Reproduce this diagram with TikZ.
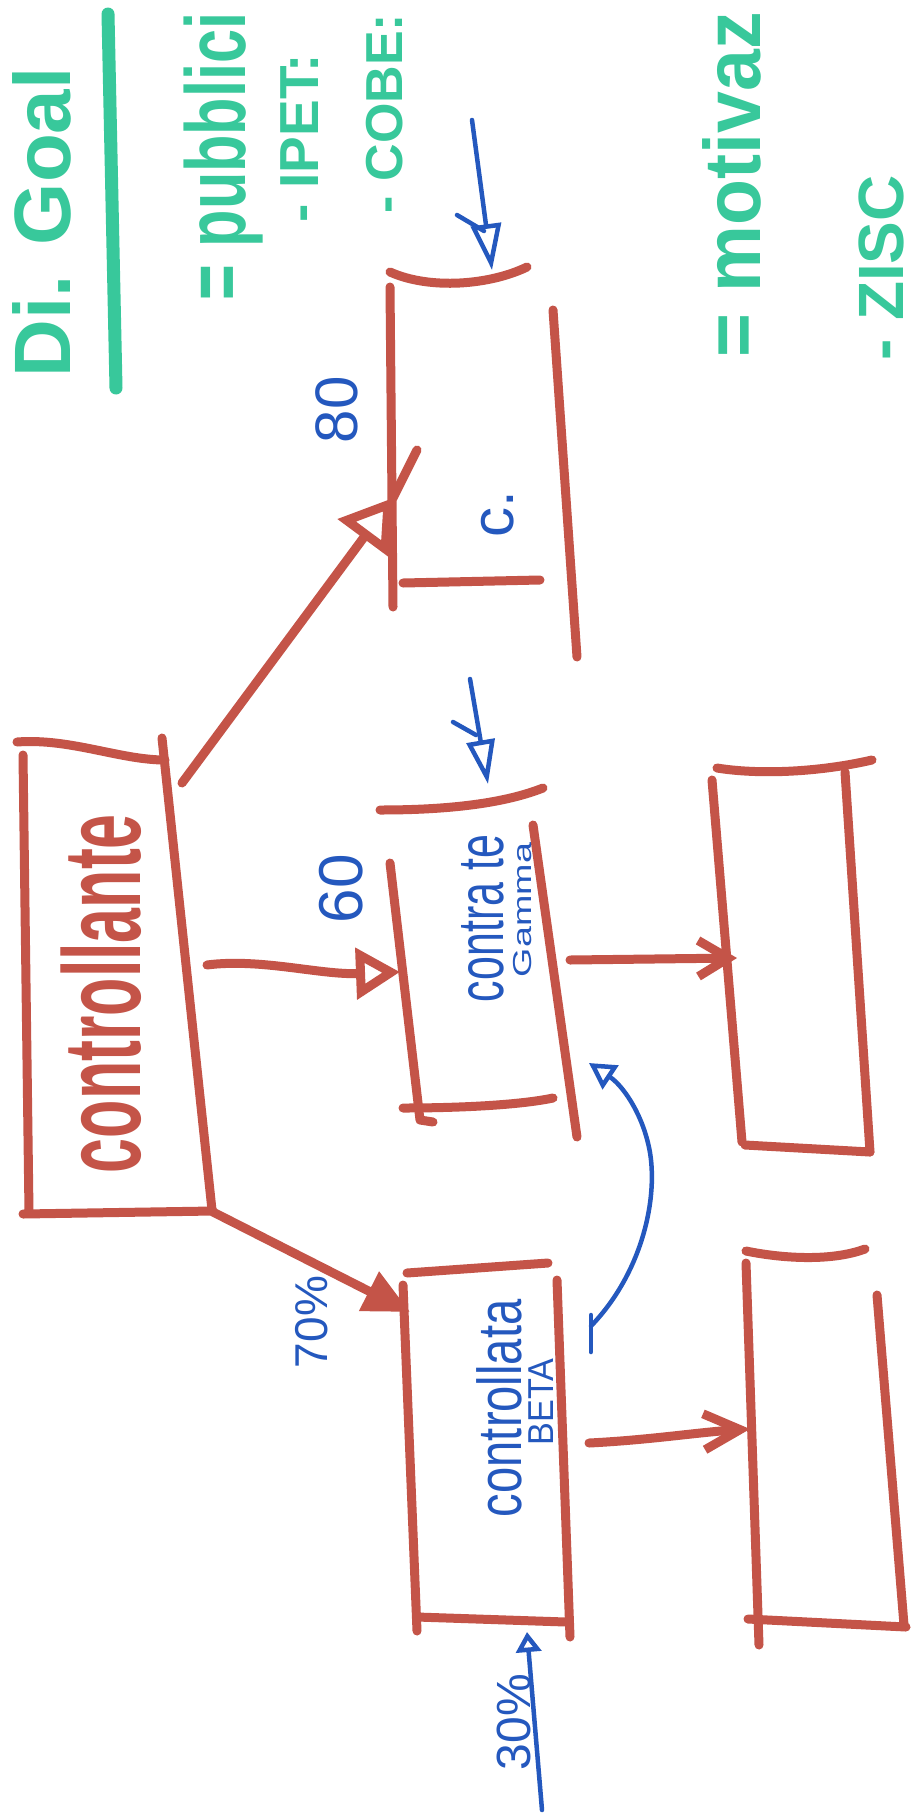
\documentclass[tikz,border=0pt]{standalone}
\usepackage{graphicx}
\usepackage{fontspec}
\setmainfont{Liberation Sans}
\usetikzlibrary{arrows.meta}
\definecolor{rd}{RGB}{196,84,72}
\definecolor{bl}{RGB}{36,88,190}
\definecolor{gr}{RGB}{56,200,155}
\newcommand{\hw}[3]{{\fontsize{#1}{#1}\selectfont\scalebox{#2}[1]{#3}}}
\tikzset{
  redline/.style={draw=rd, line width=9pt, line cap=round, line join=round},
  blueline/.style={draw=bl, line width=4.5pt, line cap=round, line join=round},
  grnline/.style={draw=gr, line width=13pt, line cap=round},
  rtxt/.style={rotate=90, anchor=base west, inner sep=0pt, outer sep=0pt},
  gtxt/.style={rtxt, text=gr},
  btxt/.style={rtxt, text=bl},
  ktxt/.style={rtxt, text=rd},
}
\begin{document}
\begin{tikzpicture}[x=1pt,y=-1pt]
\useasboundingbox (0,0) rectangle (913,1820);
\fill[white] (0,0) rectangle (913,1820);

% ---------- green notes ----------
\draw[grnline] (108,14) -- (116,388);
\node[gtxt] (g1) at (70,377) {\hw{80}{1}{\bfseries Di. Goal}};
\node[gtxt] (g2) at (245,300) {\hw{85}{0.72}{\bfseries = pubblici}};
\node[gtxt] (g3) at (318,222) {\hw{55}{1}{\bfseries - IPET:}};
\node[gtxt] (g4) at (402,213) {\hw{52}{1}{\bfseries - COBE:}};
\node[gtxt] (g5) at (760,357) {\hw{80}{0.94}{\bfseries = motivaz}};
\node[gtxt] (g6) at (903,360) {\hw{64}{1}{\bfseries - ZISC}};

% ---------- box K (controllante) ----------
\draw[redline] (17,742) .. controls (70,738) and (120,760) .. (165,760);
\draw[redline] (23,755) -- (29,1212);
\draw[redline] (162,738) -- (212,1210);
\draw[redline] (23,1214) -- (213,1211);
\node[ktxt] (tK) at (140,1173) {\hw{110}{0.57}{\bfseries controllante}};

% ---------- box C ----------
\draw[redline] (390,272) .. controls (430,290) and (490,285) .. (527,267);
\draw[redline] (390,287) -- (393,607);
\draw[redline] (403,583) -- (540,580);
\draw[redline] (553,310) -- (577,657);
\node[btxt] (t80) at (357,443) {\hw{60}{1}{80}};
\node[btxt] (tc) at (513,537) {\hw{60}{1}{c.}};

% ---------- box B ----------
\draw[redline] (380,810) .. controls (440,810) and (500,805) .. (543,788);
\draw[redline] (390,863) -- (420,1120) -- (433,1122);
\draw[redline] (403,1108) .. controls (460,1108) and (520,1105) .. (553,1098);
\draw[redline] (533,825) -- (577,1137);
\node[btxt] (t60) at (362,923) {\hw{62}{1}{60}};
\node[btxt] (tB1) at (503,1002) {\hw{65}{0.66}{contra te}};
\node[btxt] (tB2) at (531,977) {\hw{26}{1.45}{Gamma}};

% ---------- box A ----------
\draw[redline] (407,1273) -- (548,1263);
\draw[redline] (403,1285) -- (417,1631);
\draw[redline] (417,1617) -- (566,1622);
\draw[redline] (557,1280) -- (570,1637);
\node[btxt] (tA1) at (521,1517) {\hw{62}{0.76}{controllata}};
\node[btxt] (tA2) at (553,1445) {\hw{36}{0.95}{BETA}};
\node[btxt] (t70) at (327,1368) {\hw{46}{1}{70\%}};
\node[btxt] (t30) at (530,1770) {\hw{48}{1}{30\%}};

% ---------- box D ----------
\draw[redline] (717,768) .. controls (760,775) and (820,772) .. (872,760);
\draw[redline] (712,780) -- (742,1142);
\draw[redline] (745,1145) -- (870,1152);
\draw[redline] (845,772) -- (870,1152);

% ---------- box E ----------
\draw[redline] (746,1251) .. controls (780,1258) and (830,1262) .. (865,1249);
\draw[redline] (746,1263) -- (759,1645);
\draw[redline] (748,1619) -- (906,1627);
\draw[redline] (877,1295) -- (904,1625);

% ---------- connector end points ----------
\coordinate (kc0) at (182,783);
\coordinate (kc1) at (393,498);
\coordinate (kc2) at (417,450);
\coordinate (kb0) at (207,965);
\coordinate (kb1) at (400,972);
\coordinate (ka0) at (213,1212);
\coordinate (ka1) at (410,1312);
\coordinate (bd0) at (570,960);
\coordinate (bd1) at (737,958);
\coordinate (ae0) at (589,1443);
\coordinate (ae1) at (750,1429);
\coordinate (cin0) at (472,120);
\coordinate (cin1) at (492,270);
\coordinate (bin0) at (470,679);
\coordinate (bin1) at (488,784);
\coordinate (ain0) at (542,1810);
\coordinate (ain1) at (527,1632);
\coordinate (ab0) at (591,1326);
\coordinate (abm) at (648,1143);
\coordinate (ab1) at (589,1063);

% ---------- red connectors ----------
\draw[redline, -{Triangle[open,length=50pt,width=62pt]}] (kc0) -- (kc1);
\draw[redline] (kc1) -- (kc2);
\draw[redline, -{Triangle[open,length=44pt,width=50pt]}] (kb0) .. controls (260,958) and (320,975) .. (kb1);
\draw[redline, -{Triangle[length=46pt,width=42pt]}] (ka0) -- (ka1);
\draw[redline, -{Straight Barb[length=30pt,width=36pt]}] (bd0) -- (bd1);
\draw[redline, -{Straight Barb[length=36pt,width=36pt]}] (ae0) .. controls (650,1440) and (700,1432) .. (ae1);

% ---------- blue connectors ----------
\draw[blueline, -{Triangle[open,length=46pt,width=30pt]}] (cin0) -- (cin1);
\draw[blueline] (457,215) -- (484,231);
\draw[blueline, -{Triangle[open,length=44pt,width=28pt]}] (bin0) -- (bin1);
\draw[blueline] (453,722) -- (476,735);
\draw[blueline, -{Triangle[open,length=20pt,width=25pt]}] (ain0) -- (ain1);
\draw[blueline] (591,1315) -- (591,1352);
\draw[blueline, -{Triangle[open,length=26pt,width=28pt]}] (ab0) .. controls (645,1270) and (660,1190) .. (abm) .. controls (640,1110) and (622,1085) .. (ab1);
\end{tikzpicture}
\end{document}
